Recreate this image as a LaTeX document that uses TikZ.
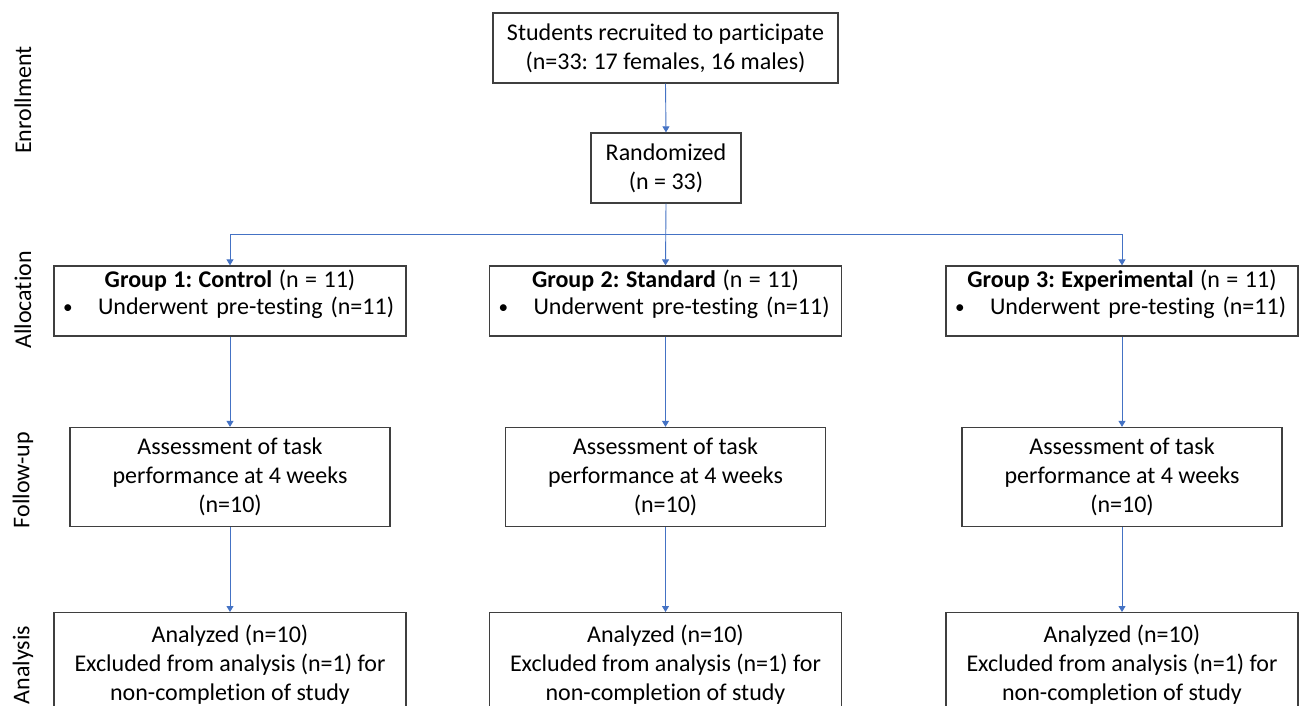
\documentclass[tikz,border=0pt]{standalone}
\usepackage{fontspec}
\setmainfont{Carlito}[Ligatures=NoCommon]
\usetikzlibrary{arrows.meta}
\definecolor{arrblue}{HTML}{4472C4}
\definecolor{boxgray}{HTML}{3F3F3F}
\tikzset{
  every node/.style={font=\fontsize{24}{29}\selectfont\frenchspacing},
  box/.style={draw=boxgray, line width=1.3pt, fill=white, inner sep=0pt, align=center, anchor=center},
  grpbox/.style={box, minimum width=352pt, minimum height=70pt, align=left},
  fubox/.style={box, minimum width=320pt, minimum height=99pt},
  anbox/.style={box, minimum width=352pt, minimum height=104pt, anchor=north},
  arr/.style={draw=arrblue, line width=0.9pt, -{Triangle[width=7pt,length=6pt]}},
  phase/.style={rotate=90, anchor=center, text=black}
}
\newcommand{\grouptext}[1]{\makebox[352pt][c]{\spaceskip=6.5pt\textbf{#1} (n = 11)}\\[-2pt]\makebox[352pt][l]{\spaceskip=8pt\hspace*{9pt}\makebox[35pt][l]{\raisebox{1pt}{\scalebox{0.8}{•}}}Underwent pre-testing (n=11)\rule[-18pt]{0pt}{0pt}}}
\begin{document}
\begin{tikzpicture}[x=1pt,y=-1pt]
\clip (0,0) rectangle (1299,706);
\fill[white] (0,0) rectangle (1299,706);

% phase labels
\node[phase] (enr) at (23,100) {Enrollment};
\node[phase] (alc) at (23,300) {Allocation};
\node[phase] (fup) at (23,480) {Follow-up};
\node[phase] (ana) at (23,665) {Analysis};

% boxes
\node[box, minimum width=345pt, minimum height=70pt] (top) at (665.5,48) {Students recruited to participate\\(n=33: 17 females, 16 males)};
\node[box, minimum width=150pt, minimum height=70pt] (rand) at (666,168) {Randomized\\(n = 33)};

\node[grpbox] (g1) at (230,301) {\grouptext{Group 1: Control}};
\node[grpbox] (g2) at (665.5,301) {\grouptext{Group 2: Standard}};
\node[grpbox] (g3) at (1122,301) {\grouptext{Group 3: Experimental}};

\node[fubox] (f1) at (230,477) {Assessment of task\\performance at 4 weeks\\(n=10)};
\node[fubox] (f2) at (665.5,477) {Assessment of task\\performance at 4 weeks\\(n=10)};
\node[fubox] (f3) at (1122,477) {Assessment of task\\performance at 4 weeks\\(n=10)};

\node[anbox] (a1) at (230,612) {Analyzed (n=10)\\Excluded from analysis (n=1) for\\non-completion of study};
\node[anbox] (a2) at (665.5,612) {Analyzed (n=10)\\Excluded from analysis (n=1) for\\non-completion of study};
\node[anbox] (a3) at (1122,612) {Analyzed (n=10)\\Excluded from analysis (n=1) for\\non-completion of study};

% connectors
\coordinate (split) at (665.5,234);
\draw[arr] (top.south) -- (rand.north);
\draw[arr] (rand.south) -- (g2.north);
\draw[arr] (split) -| (g1.north);
\draw[arr] (split) -| (g3.north);
\draw[arr] (g1.south) -- (f1.north);
\draw[arr] (g2.south) -- (f2.north);
\draw[arr] (g3.south) -- (f3.north);
\draw[arr] (f1.south) -- (a1.north);
\draw[arr] (f2.south) -- (a2.north);
\draw[arr] (f3.south) -- (a3.north);
\end{tikzpicture}
\end{document}
